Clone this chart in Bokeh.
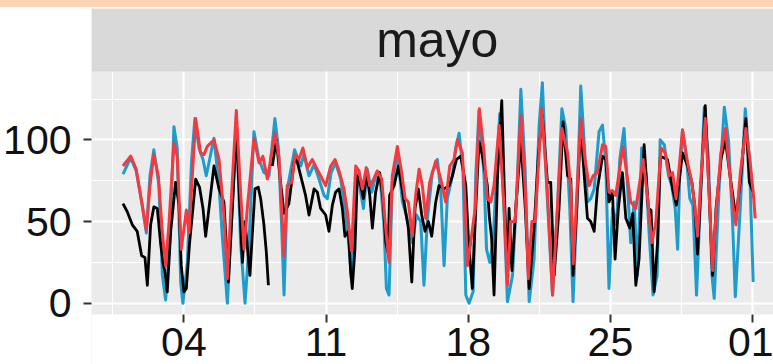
from bokeh.plotting import figure
from bokeh.models import Range1d, FixedTicker, BoxAnnotation, Label, Div
from bokeh.layouts import column
from bokeh.embed import file_html
from bokeh.resources import INLINE

NaN = float("nan")

# ---- data (days since 1 May 00:00) ----
facet_label = "mayo"
x_tick_days = [3, 10, 17, 24, 31]
x_tick_labels = ["04", "11", "18", "25", "01"]
x_minor_days = [-0.5, 6.5, 13.5, 20.5, 27.5]
y_ticks = [0, 50, 100]
y_minor_ticks = [25, 75, 125]

red_days = [0.00, 0.38, 0.65, 0.95, 1.15, 1.33, 1.52, 1.74, 1.94, 2.10, 2.26, 2.51, 2.67, 2.87, 3.12, 3.25,
            3.58, 3.82, 3.99, 4.15, 4.48, 4.73, 4.97, 5.14, 5.38, 5.58, 5.79, 5.96, 6.12, 6.45, 6.70, 6.89,
            7.11, 7.27, 7.48, 7.68, 7.93, 8.09, 8.31, 8.47, 8.66, 8.86, 9.08, 9.32, 9.52, 9.73, 9.98, 10.23,
            10.44, 10.64, 10.88, 11.05, 11.25, 11.46, 11.62, 11.79, 11.98, 12.15, 12.31, 12.52, 12.74, 12.94,
            13.10, 13.26, 13.51, 13.72, 13.89, 14.05, 14.25, 14.41, 14.58, 14.74, 14.91, 15.10, 15.40, 15.65,
            15.89, 16.09, 16.30, 16.47, 16.71, 16.84, 16.96, 17.12, 17.34, 17.55, 17.78, 17.94, 18.11, 18.27,
            18.52, 18.77, 18.93, 19.09, 19.31, 19.59, 19.80, 19.96, 20.13, 20.29, 20.62, 20.90, 21.15, 21.39,
            21.61, 21.89, 22.05, 22.17, 22.54, 22.75, 22.95, 23.15, 23.36, 23.61, 23.77, 23.93, 24.10, 24.26,
            24.43, 24.62, 24.84, 25.00, 25.25, 25.61, 25.82, 26.04, 26.24, 26.49, 26.70, 26.90, 27.06, 27.23,
            27.40, 27.55, 27.80, 28.01, 28.15, 28.29, 28.45, 28.67, 28.85, 29.03, 29.20, 29.44, 29.66, 29.89,
            30.05, 30.18, 30.40, 30.67, 30.87, 31.03, 31.13]
red_vals = [84, 90, 82, 60, 45, 72, 91, 78, 43, 23, 48, 98, 90, 33, 57, 43,
            113, 92, 91, 96, 100, 88, 54, 15, 74, 118, 68, 33, 58, 101, 86, 90,
            76, 88, 104, 90, 29, 72, 74, 91, 88, 95, 83, 88, 83, 78, 72, 84,
            88, 81, 70, 56, 32, 84, 81, 70, 83, 72, 75, 81, 76, 45,
            25, 78, 96, 80, 64, 62, 41, 66, 82, 72, 52, 74, 87, 76,
            62, 84, 88, 100, 92, 62, 23, 37, 58, 119, 92, 64, 62, 72,
            109, 58, 11, 50, 50, 115, 72, 15, 50, 50, 119, 68, 5, 58,
            107, 92, 70, 24, 113, 88, 72, 78, 80, 97, 96, 68, 69, 66,
            80, 96, 76, 62, 58, 88, 66, 37, 50, 95, 92, 78, 80, 64,
            85, 106, 86, 74, 60, 41, 75, 113, 70, 20, 55, 92, 107, 78,
            58, 48, 80, 107, 88, 68, 52]

blue_days = [0.00, 0.38, 0.65, 0.92, 1.15, 1.33, 1.52, 1.77, 1.94, 2.10, 2.30, 2.51, 2.67, 2.84, 2.95, 3.17,
             3.38, 3.54, 3.74, 3.94, 4.10, 4.48, 4.73, 4.89, 5.14, 5.38, 5.58, 5.79, 6.01, 6.20, 6.45, 6.70,
             6.94, 7.19, 7.48, 7.65, 7.81, 7.93, 8.09, 8.45, 8.75, 8.91, 9.16, 9.41, 9.65, 9.90, 10.06, 10.25,
             10.47, 10.72, 10.97, 11.13, 11.25, 11.49, 11.65, 11.84, 12.03, 12.25, 12.44, 12.69, 12.85, 12.97,
             13.10, 13.26, 13.51, 13.76, 13.95, 14.25, 14.45, 14.66, 14.82, 14.99, 15.23, 15.48, 15.65, 15.81,
             15.97, 16.22, 16.38, 16.55, 16.74, 16.88, 17.04, 17.24, 17.37, 17.53, 17.78, 17.90, 18.06, 18.22,
             18.55, 18.77, 18.93, 19.18, 19.40, 19.59, 19.80, 20.00, 20.24, 20.49, 20.65, 20.85, 21.15, 21.39,
             21.61, 21.80, 22.00, 22.16, 22.35, 22.54, 22.70, 22.87, 23.03, 23.20, 23.44, 23.61, 23.77, 23.93,
             24.10, 24.30, 24.46, 24.67, 24.84, 25.00, 25.17, 25.33, 25.54, 25.74, 25.92, 26.10, 26.30, 26.45,
             26.65, 26.86, 27.02, 27.19, 27.31, 27.42, 27.55, 27.75, 27.91, 28.06, 28.24, 28.42, 28.62, 28.83,
             29.00, 29.11, 29.35, 29.61, 29.82, 30.02, 30.15, 30.40, 30.64, 30.84, 31.03]
blue_vals = [79, 89, 81, 62, 43, 78, 94, 72, 17, 2, 37, 108, 95, 13, 0, 25,
             88, 113, 95, 88, 78, 101, 72, 41, 0, 58, 113, 37, 0, 35, 105, 88,
             80, 78, 113, 95, 48, 5, 70, 94, 84, 91, 78, 85, 76, 66, 64, 80,
             86, 76, 54, 35, 15, 80, 72, 58, 82, 68, 78, 72, 48, 9,
             5, 74, 92, 62, 54, 37, 54, 50, 11, 52, 80, 88, 68, 23,
             64, 78, 95, 104, 82, 5, 0, 7, 78, 118, 78, 33, 25, 37,
             116, 54, 1, 17, 70, 131, 82, 1, 27, 109, 135, 74, 5, 58,
             119, 107, 58, 1, 60, 133, 100, 62, 64, 70, 105, 109, 86, 9,
             58, 48, 88, 107, 72, 37, 62, 17, 95, 80, 40, 5, 17, 100,
             97, 78, 72, 58, 33, 80, 106, 88, 64, 60, 5, 60, 120, 88,
             17, 3, 70, 120, 99, 48, 4, 60, 119, 88, 13]

black_days = [0.00, 0.21, 0.46, 0.70, 0.92, 1.08, 1.20, 1.36, 1.52, 1.69, 1.85, 1.97, 2.07, 2.18, 2.35, 2.59,
              2.76, 2.87, 3.00, 3.12, 3.28, 3.58, 3.77, 3.94, 4.07, 4.30, 4.48, 4.73, 4.97, 5.19, 5.47, 5.58,
              5.74, 5.88, 6.01, 6.25, 6.50, 6.66, 6.78, 6.94, 7.06, 7.16, 7.25, 7.35, 7.55, 7.76, 7.93, 8.17,
              8.42, 8.55, 8.75, 8.99, 9.16, 9.41, 9.57, 9.73, 9.98, 10.14, 10.31, 10.47, 10.64, 10.80, 10.93,
              11.10, 11.21, 11.29, 11.42, 11.54, 11.67, 11.84, 12.00, 12.15, 12.28, 12.44, 12.64, 12.80, 12.94,
              13.05, 13.13, 13.35, 13.56, 13.72, 13.89, 14.05, 14.22, 14.38, 14.54, 14.71, 14.87, 15.04, 15.20,
              15.40, 15.56, 15.81, 16.06, 16.22, 16.42, 16.63, 16.88, 17.01, 17.20, 17.37, 17.53, 17.70, 17.94,
              18.03, 18.15, 18.27, 18.45, 18.65, 18.80, 18.93, 19.01, 19.15, 19.35, 19.59, 19.80, 20.00, 20.24,
              20.45, 20.65, 20.90, 21.06, 21.23, 21.47, 21.67, 21.89, 22.05, 22.16, 22.35, 22.54, 22.70, 22.87,
              23.03, 23.20, 23.36, 23.61, 23.77, 23.93, 24.10, 24.23, 24.39, 24.59, 24.76, 24.95, 25.10, 25.25,
              25.41, 25.66, 25.87, 26.00, 26.15, 26.32, 26.46, 26.81, 27.06, 27.25, 27.55, 27.80, 28.01, 28.15,
              28.29, 28.45, 28.67, 28.85, 29.03, 29.20, 29.44, 29.66, 29.89, 30.05, 30.18, 30.40, 30.67, 30.84,
              31.03]
black_vals = [61, 56, 48, 44, 29, 28, 11, 48, 59, 58, 37, 25, 19, 7, 44, 74,
              60, 23, 7, 9, 37, 76, 71, 58, 41, 65, 84, 70, 62, 13, 78, 109,
              62, 25, 50, 17, 70, 71, 64, 48, 31, 11, NaN, 84, 100, 74, 55, 61,
              86, 88, 78, 66, 54, 70, 68, 58, 54, 44, 60, 68, 70, 58, 41,
              44, 19, 9, 33, 78, 74, 64, 80, 66, 46, 68, 80, 64, 37,
              31, 66, 72, 84, 72, 58, 46, 13, 58, 70, 54, 44, 50, 41,
              62, 72, 70, 72, 78, 88, 90, 72, 39, 9, 58, 99, 90, 72,
              54, 40, 5, 80, 124, 60, 17, 58, 20, 60, 99, 60, 9, 46,
              90, 115, 74, 74, 17, 58, 111, 78, 76, 17, 60, 109, 80, 52,
              50, 44, 70, 90, 88, 62, 68, 27, 58, 80, 52, 46, 55, 11,
              27, 97, 58, 57, 7, 37, 90, 88, 70, 60, 92, 84, 74, 60,
              30, 70, 121, 70, 17, 58, 88, 100, 78, 64, 52, 75, 113, 74,
              68]

# ---- view limits ----
X_LO, X_HI = -1.55, 32.03
PANEL_X_HI = 32.5
Y_LO, Y_PANEL_LO, Y_PANEL_TOP, Y_HI = -37.5, -6.9, 141.8, 180.4
FONT = "Liberation Sans"

p = figure(width=773, height=357,
           x_range=Range1d(X_LO, X_HI), y_range=Range1d(Y_LO, Y_HI),
           output_backend="svg", toolbar_location=None,
           min_border_left=91, min_border_right=0, min_border_top=1, min_border_bottom=0)
p.title.visible = False
p.background_fill_color = "#EBEBEB"
p.border_fill_color = "white"
p.outline_line_color = None

# grids
p.xgrid.ticker = FixedTicker(ticks=x_tick_days, minor_ticks=x_minor_days)
p.ygrid.ticker = FixedTicker(ticks=y_ticks, minor_ticks=y_minor_ticks)
for g in (p.xgrid, p.ygrid):
    g.grid_line_color = "white"
    g.grid_line_width = 2.2
    g.minor_grid_line_color = "white"
    g.minor_grid_line_width = 1.1

# white area below the panel (outside the ggplot panel)
p.add_layout(BoxAnnotation(top=Y_PANEL_LO, fill_color="white", fill_alpha=1.0,
                           line_color=None, level="underlay"))

# axes
p.xaxis.ticker = FixedTicker(ticks=x_tick_days, minor_ticks=[])
p.xaxis.major_label_overrides = {d: lab for d, lab in zip(x_tick_days, x_tick_labels)}
p.xaxis.fixed_location = Y_PANEL_LO
p.yaxis.ticker = FixedTicker(ticks=y_ticks, minor_ticks=[])
for ax in (p.xaxis, p.yaxis):
    ax.axis_line_color = None
    ax.major_tick_line_color = "#333333"
    ax.major_tick_line_width = 2
    ax.major_tick_in = 0
    ax.major_tick_out = 8
    ax.minor_tick_line_color = None
    ax.major_label_text_font = FONT
    ax.major_label_text_font_size = "41px"
    ax.major_label_text_color = "#111111"
p.xaxis.major_label_standoff = 5
p.yaxis.major_label_standoff = 12

# series
p.line(blue_days, blue_vals, line_color="#1E9CCB", line_width=3.0, line_join="round")
p.line(black_days, black_vals, line_color="black", line_width=2.8, line_join="round")
p.line(red_days, red_vals, line_color="#F23A3F", line_width=3.0, line_join="round")

# facet strip
p.add_layout(BoxAnnotation(bottom=Y_PANEL_TOP, fill_color="#D9D9D9", fill_alpha=1.0,
                           line_color=None, level="overlay"))
p.add_layout(Label(x=(X_LO + PANEL_X_HI) / 2, y=(Y_PANEL_TOP + Y_HI) / 2, text=facet_label,
                   text_align="center", text_baseline="middle",
                   text_font=FONT, text_font_size="50px", text_color="#1A1A1A", level="overlay"))

band = Div(text="", width=773, height=7, margin=0,
           styles={"background-color": "#FCD5B4"})
layout = column(band, p, spacing=0)

open("out.html", "w").write(file_html(layout, INLINE))
